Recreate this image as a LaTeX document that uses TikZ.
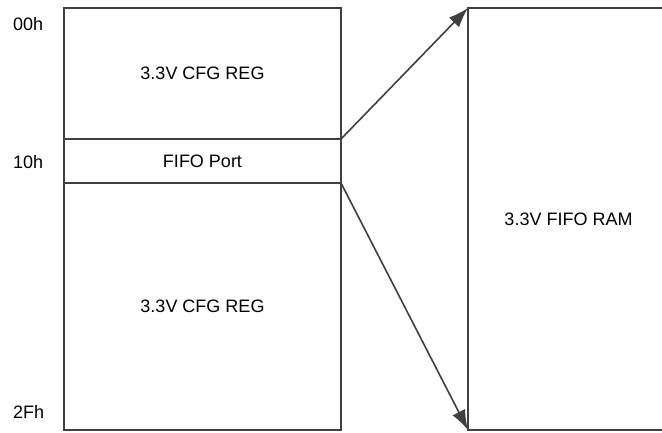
\documentclass[tikz,border=0pt]{standalone}
\usepackage{fontspec}
\setmainfont{Liberation Sans}
\usetikzlibrary{arrows.meta}
\definecolor{edge}{HTML}{404040}
\tikzset{
  membox/.style={draw=edge, line width=1.6pt, outer sep=0pt, inner sep=0pt, anchor=north west, font=\fontsize{18}{20}\selectfont, text=black},
  addr/.style={anchor=west, inner sep=0pt, font=\fontsize{18}{20}\selectfont, text=black},
  maparrow/.style={draw=edge, line width=1.6pt, -{Latex[length=20pt,width=14pt]}}
}
\begin{document}
\begin{tikzpicture}[x=1pt,y=-1pt]
\clip (0,0) rectangle (662,432);
\node[membox, minimum width=277pt, minimum height=131pt] (cfg1) at (64,8) {3.3V CFG REG};
\node[membox, minimum width=277pt, minimum height=44pt] (fifo) at (64,139) {FIFO Port};
\node[membox, minimum width=277pt, minimum height=247pt] (cfg2) at (64,183) {3.3V CFG REG};
\node[membox, minimum width=201pt, minimum height=422pt] (ram) at (468,8) {3.3V FIFO RAM};
\node[addr] (a00) at (13,24) {00h};
\node[addr] (a10) at (13,162) {10h};
\node[addr] (a2f) at (13,412) {2Fh};
\draw[maparrow] (cfg1.south east) -- (ram.north west);
\draw[maparrow] (fifo.south east) -- (ram.south west);
\end{tikzpicture}
\end{document}
